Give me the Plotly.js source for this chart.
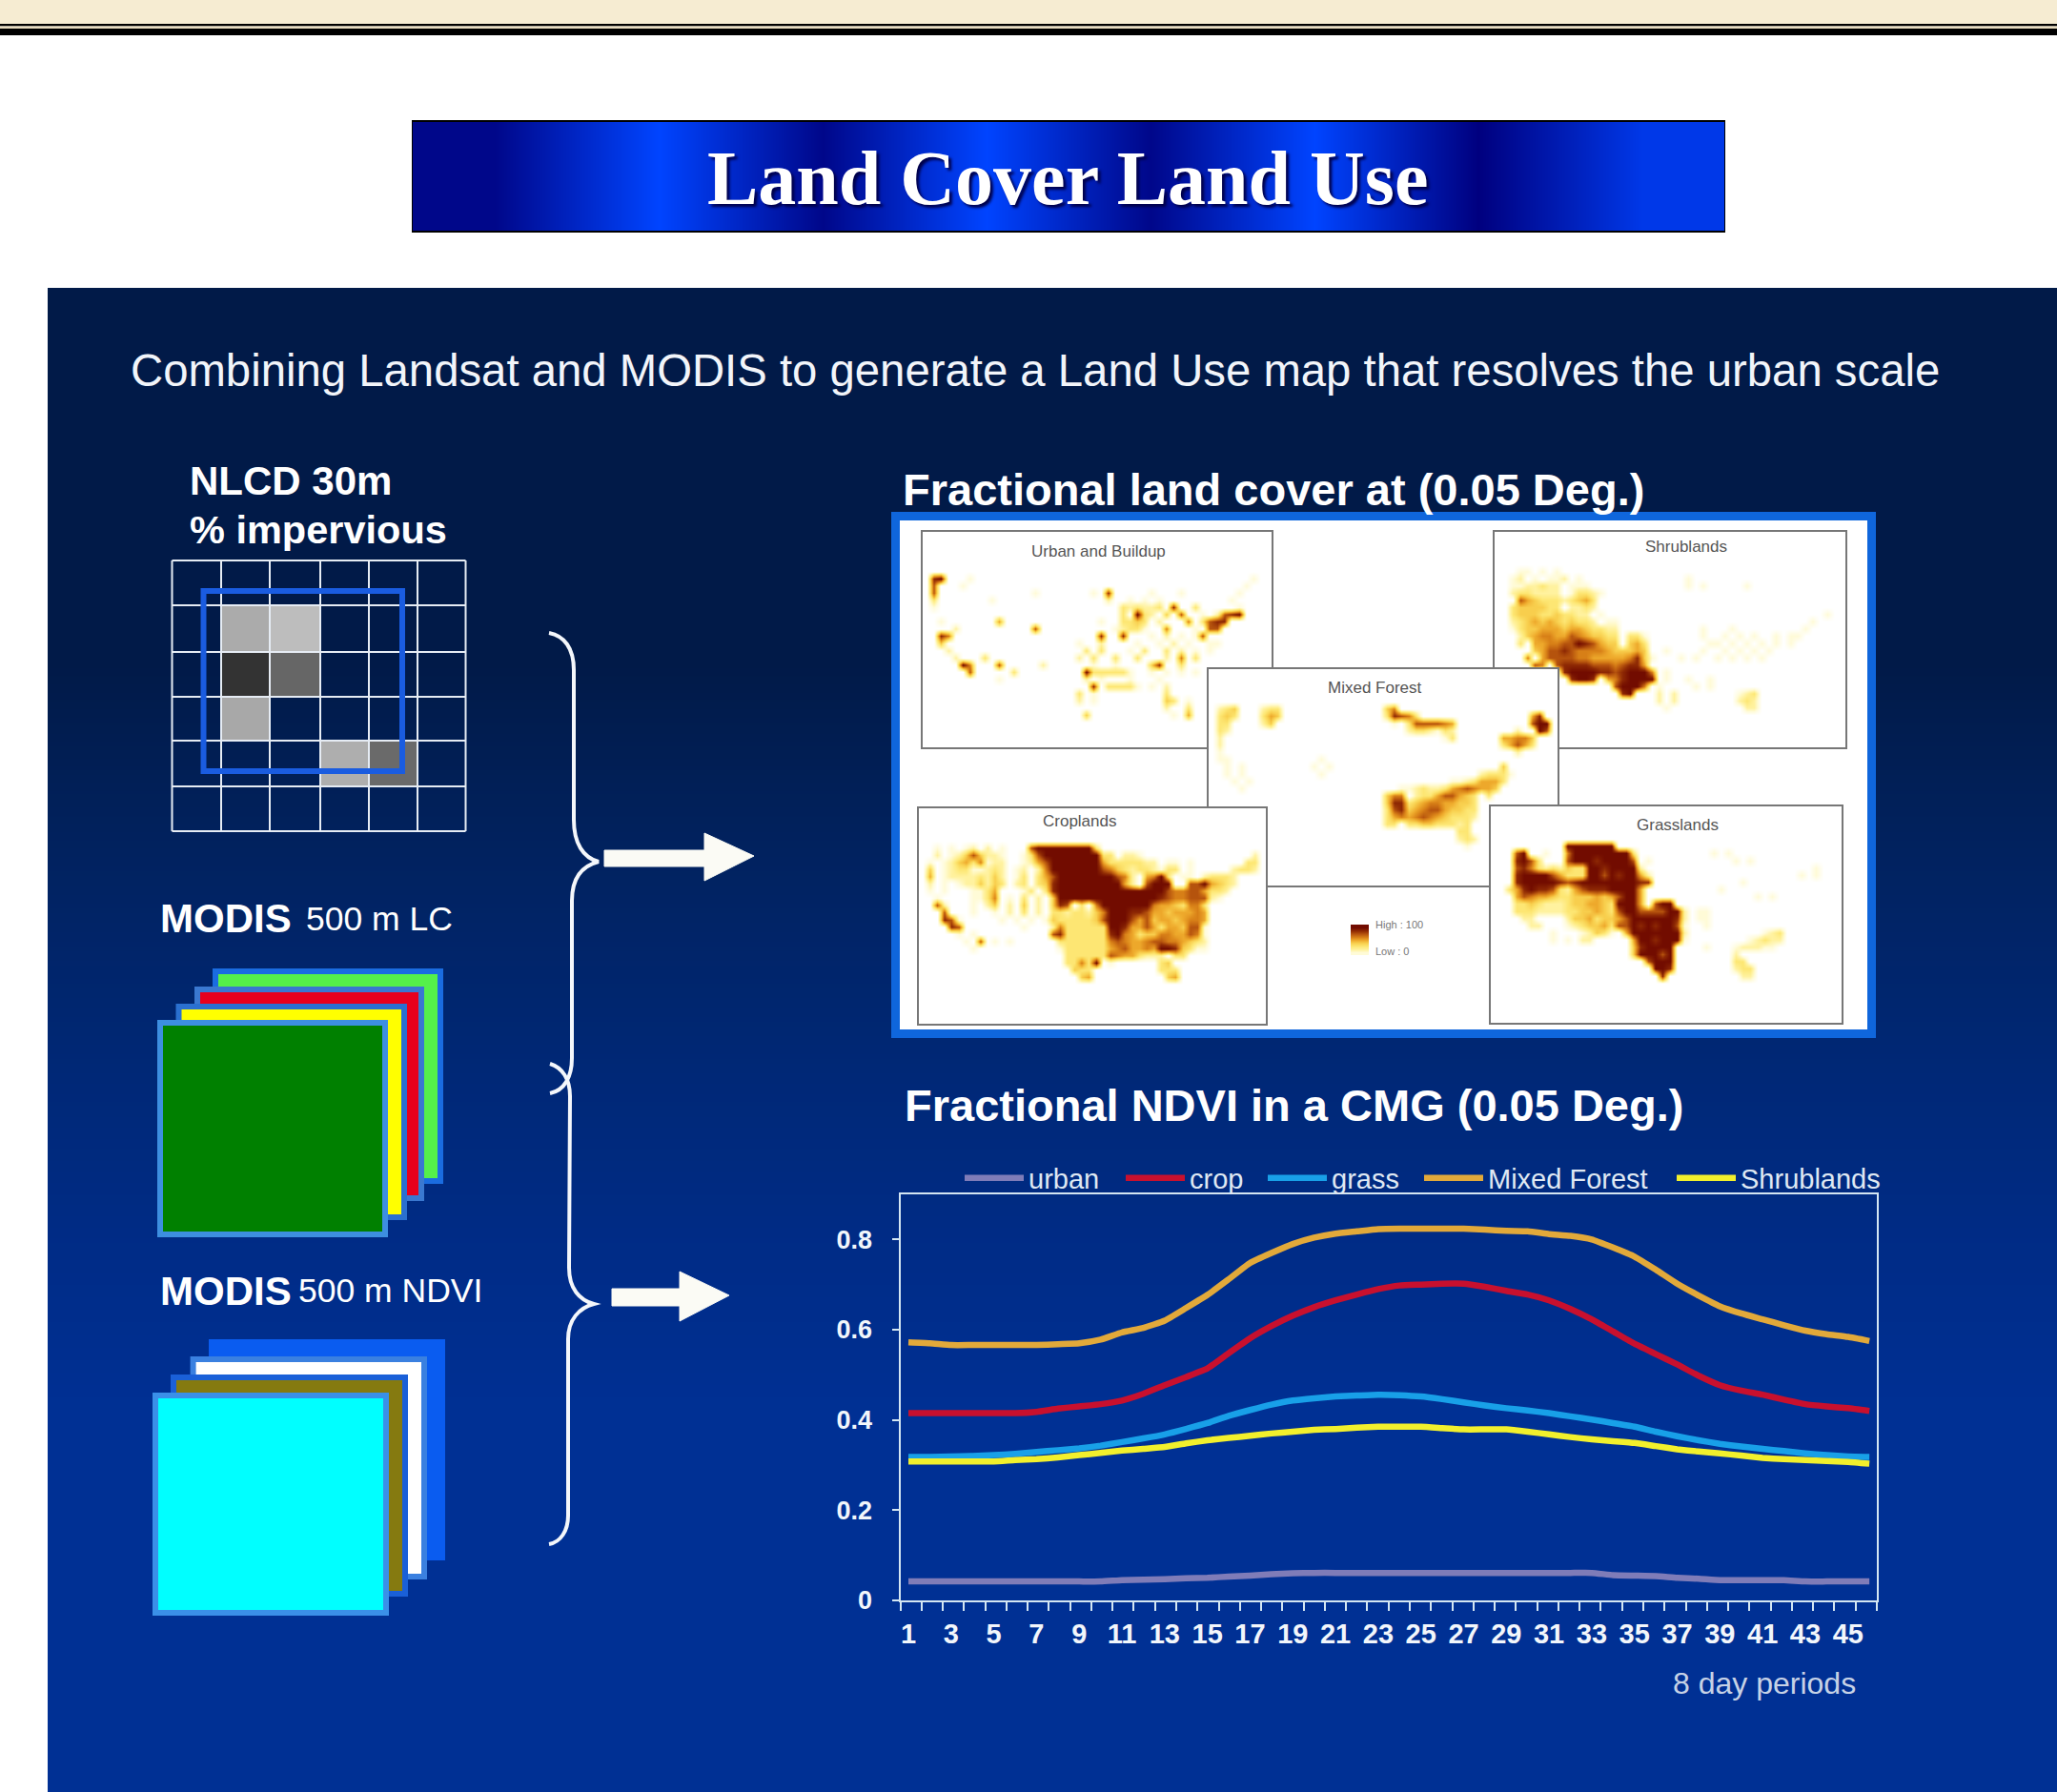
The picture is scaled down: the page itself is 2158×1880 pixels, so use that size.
<!DOCTYPE html>
<html><head><meta charset="utf-8">
<script src="https://cdn.plot.ly/plotly-3.0.1.min.js"></script>
<style>html,body{margin:0;padding:0;background:#fff}</style></head>
<body><div id="chart" style="width:2158px;height:1880px"></div>
<script>
const W = 2158, H = 1880;
// ---- NDVI chart data ----
const periods = [1,2,3,4,5,6,7,8,9,10,11,12,13,14,15,16,17,18,19,20,21,22,23,24,25,26,27,28,29,30,31,32,33,34,35,36,37,38,39,40,41,42,43,44,45,46];
const urban = [.042,.042,.042,.042,.042,.042,.042,.042,.042,.042,.045,.046,.047,.049,.050,.053,.055,.058,.060,.061,.061,.061,.061,.061,.061,.061,.061,.061,.061,.061,.061,.061,.061,.056,.055,.054,.050,.048,.045,.045,.045,.045,.042,.042,.042,.042];
const crop = [.415,.415,.415,.415,.415,.415,.418,.425,.430,.435,.443,.458,.477,.495,.514,.548,.581,.608,.631,.650,.665,.678,.690,.698,.700,.702,.702,.695,.686,.678,.665,.646,.623,.596,.569,.546,.523,.498,.477,.465,.456,.445,.435,.430,.426,.420];
const grass = [.318,.318,.319,.320,.322,.325,.329,.333,.337,.343,.351,.359,.368,.380,.393,.409,.422,.434,.443,.448,.452,.454,.456,.455,.452,.446,.439,.432,.426,.421,.415,.408,.401,.393,.385,.374,.364,.355,.347,.341,.336,.331,.326,.322,.319,.318];
const mixedForest = [.572,.570,.566,.566,.566,.566,.566,.568,.570,.578,.594,.604,.620,.648,.677,.712,.748,.770,.790,.804,.813,.818,.823,.824,.824,.824,.824,.822,.819,.818,.812,.808,.800,.782,.762,.733,.702,.676,.652,.636,.623,.610,.598,.590,.584,.575];
const shrublands = [.308,.308,.308,.308,.308,.311,.313,.317,.322,.327,.332,.336,.340,.348,.355,.360,.365,.370,.374,.378,.380,.383,.385,.385,.385,.382,.379,.379,.379,.374,.368,.362,.357,.353,.349,.342,.335,.330,.326,.321,.316,.313,.311,.309,.307,.303];
const seriesNames = ['urban','crop','grass','Mixed Forest','Shrublands'];
const seriesColors = ['#7f7cb8','#c8102e','#18a0e8','#e2a93a','#f2f02c'];
const yTickVals = [0,0.2,0.4,0.6,0.8];
const yTickText = ['0','0.2','0.4','0.6','0.8'];
const xTickVals = [1,3,5,7,9,11,13,15,17,19,21,23,25,27,29,31,33,35,37,39,41,43,45];

// ---- Fractional land cover maps, 0-9 per cell, read by eye; first listed row is grid row 5 ----
const mapUrban = [
".......... .......... .......... .......... ........",
".89...1... .......... .......... .......... .....1..",
".7...1.... .......... .......... .......... ....1...",
".7........ .....1.... ...1.8.... .1...1.... ...1....",
".3.......1 .......... .....2..1. 1.1....... ..1.....",
".1........ .......... .......323 223.8..3.. ...1....",
".......... .......... .......3.9 32.4.7..1. 2789....",
"..1....... 5......... ....1..334 3.2...6.37 88......",
"....2..... .....7.... ......1233 1..6...1.7 7.......",
"..86...... .......... ....8..8.. .1.2.1.17. ........",
"..4....... .......... .1..2....1 ..1.2.1..1 1.......",
"...2...... .......... ..3.3...1. 3..3.2.1.1 ........",
"....2...3. .......... .2.3..3..3 ...2.6.3.. ........",
".....96... 7.....2... ...1..1... .48..3.... ........",
"......7... ..3....... ..9333331. .1.1.1.1.. ........",
".......... 1......... ..2.1...1. ..1....... ........",
".......... .......... ...8.33331 .1.2...... ........",
".......... .......... .3.1...... ...3...... ........",
".......... .......... .2.1...... ...43.1... ........",
".......... .......... .......... ...2..3... ........",
".......... .......... ..4....... ....1.5... ........"];
const mapShrub = [
"...11.1.1. .......... .......... .......... ........",
"..12.1.112 .1........ ......1... .......... ........",
"..1122322. 111....... ......1.1. ....1..... ........",
"..2332222. 13321..... .......... .......... ........",
"...7543332 3453...... .......... .......... ........",
"..3444433. 2232...... .......... .......... ........",
"..34443343 322.1..... .......... .......... .....1..",
"..23454543 4332.11... .......... .......... ...1....",
"..13445554 5543322... ........1. ..1....... ..1.....",
"...2456655 7654433.33 1.......1. .1.1.1..1. 11......",
"...3.55667 7987544.45 3........1 1.1.1.1.1. 1.......",
".....45778 7666654445 4..1....1. .1.1.1.1.. ........",
"....6.5777 7665555568 41...1.1.. 1.1.1.1... ........",
".....76.78 8887776788 5......... .......... ........",
".........8 9999887899 96.1...... .......... ........",
".......... 8998.56899 99.1..1..1 .......... ........",
".......... ......7999 6.1....1.1 .......... ........",
".......... .......89. ..2.2..... ...123.... ........",
".......... .......... ..2.2..... ...232.... ........",
".......... .......... ...1...... ....22.... ........"];
const mapMixed = [
".234...233 .......... ....46.... .......... ........",
".343...354 .......... ....38763. .......... ....58..",
".33....24. .......... .....1.377 7765...... ....799.",
".32....... .......... .......233 2132...... ..2..97.",
".2........ .......... .......... ..13...... 55664...",
".2........ .......... .......... .......... 35753...",
".1........ .......... .......... .......... ..2.....",
".11....... .....1.... .......... .......... ........",
"..1.1..... ....1.1... .......... .......... 4.......",
"..1.1..... .....1.... .......... .......233 31......",
"...1.1.... .......... .......... ...1123555 3.......",
"....1..... .......... ......1123 2235676554 ........",
".......... .......... ....466.23 3577543.3. ........",
".......... .......... ....488345 6655443... ........",
".......... .......... ....378456 7754433... ........",
".......... .......... ....356567 6543332... ........",
".......... .......... ....33.334 433323.... ........",
".......... .......... .......... ....33.... ........",
".......... .......... .......... ....232... ........",
".......... .......... .......... .....1.... ........"];
const mapCrop = [
"..1.1.12.2 .1...79999 99993..... .......... ........",
"..2.124742 21..137999 9999933.22 1......... ......2.",
".1.1245361 22..125799 9999953333 322.11.1.. .....33.",
".4.1233112 32.12.2699 9999976432 332133.1.. ...2332.",
".5.1222232 42.13.3579 9999999762 .5693.11.2 3332....",
".2.1.12242 43.23.3489 9999999952 .7999..779 5432....",
".1.1...113 5...13.389 9999999999 9999766775 332.....",
"..1....113 6.1.3.2.49 9999999999 9998766777 21......",
"..72...1.2 4.2.4.2.48 7.3.699999 9965543663 ........",
"...7...1.. 1.2.3.2.33 2332469998 8755455565 ........",
"...871.... .1.1.1.143 3333479997 5745545665 ........",
"....87.... ....1...26 3333339985 5753554771 ........",
".....1.1.. ........78 3333338965 3446655761 ........",
"......1.7. 1.1......3 3333336765 5677665432 ........",
".......1.. .........1 3333335675 5659984311 ........",
".......... .......... 3333337655 3222.33... ........",
".......... .......... 33639.1... ...34..... ........",
".......... .......... .433...... ...333.... ........",
".......... .......... ..45...... ....45.... ........"];
const mapGrass = [
".......... 9999999... .......... .......... ........",
"...79..1.. 6999999993 .......... 1.1....... ........",
"...8973... 7999899997 .1........ ...1.1.... ........",
"...7863232 4339989999 2......... .......... ....1...",
"...8999975 3339979899 52........ .......... ..1.1...",
"...8999998 7899999999 88........ ....1..... ........",
"..35898873 2578889999 5......... .1........ ........",
"...5765543 3444545799 5......... ......1.1. ........",
"...3343222 3445543999 5.799..... .......... ........",
"...3332222 3344543799 7777992.11 .......... ........",
"....22.... 2445344579 9999982.11 .......... ........",
".....22... 1234453779 8989971..1 .......... ........",
"........1. ..12431.59 9999992... .......123 ........",
"........1. 1.22.....5 9989991... .....12322 ........",
".......... .........4 89999....1 ...122211. ........",
".......... .........4 99979..... ...2...... ........",
".......... .......... .7999..... ...33..... ........",
".......... .......... ..998..... ...233.... ........",
".......... .......... ...8...... ....22.... ........"];
const mapScale = [[0,'#ffffff'],[0.11,'#fffbd8'],[0.22,'#fff2a0'],[0.33,'#fde774'],[0.44,'#f8cf4e'],[0.55,'#eeaa2c'],[0.66,'#d98218'],[0.77,'#b8560e'],[0.88,'#8f2a04'],[1,'#720c00']];
const swatchLevels = [[9],[7],[5],[3],[1]];

// ---- page gradient stops ----
const backdropStops = [[0,'#011a48'],[0.25,'#01225f'],[0.55,'#002877'],[0.8,'#002c88'],[1,'#003094']];
const bannerStops = [[0,'#00078a'],[0.137,'#0044ff'],[0.285,'#00078a'],[0.437,'#0044ff'],[0.575,'#00078a'],[0.73,'#0044ff'],[0.875,'#00007f'],[1,'#0038e8']];

const px = v => v / W, py = v => 1 - v / H;
const SANS = 'Liberation Sans, Arial, sans-serif';
const NARROW = 'Liberation Sans Narrow, Liberation Sans, sans-serif';
const traces = [], layout = {
  width: W, height: H, margin: {l:0,r:0,t:0,b:0}, paper_bgcolor: '#ffffff', plot_bgcolor: 'rgba(0,0,0,0)',
  hovermode: false, shapes: [], annotations: []
};
function ax(id, x0, x1, y0, y1, rx, ry, line) {
  const suffix = id === 1 ? '' : String(id);
  const base = {showgrid:false, zeroline:false, showticklabels:false, ticks:'', fixedrange:true,
    showline: !!line, mirror: !!line, linecolor: line ? line.c : undefined, linewidth: line ? line.w : undefined};
  layout['xaxis'+suffix] = Object.assign({}, base, {domain:[px(x0),px(x1)], range:rx, anchor:'y'+suffix});
  layout['yaxis'+suffix] = Object.assign({}, base, {domain:[py(y1),py(y0)], range:ry, anchor:'x'+suffix});
  return {xaxis:'x'+suffix, yaxis:'y'+suffix};
}
function heat(id, box, z, scale, line, zmin, zmax) {
  const rows = z.length, cols = z[0].length;
  traces.push(Object.assign({type:'heatmap', z, colorscale:scale, zmin, zmax, zsmooth:'best', showscale:false, hoverinfo:'skip', showlegend:false},
    ax(id, box[0], box[1], box[2], box[3], [-0.5,cols-0.5], [rows-0.5,-0.5], line)));
}
const mapCols = 48, mapRowsTotal = 30, mapFirstRow = 5;
function parseMap(rows){
  const grid = [];
  for (let j=0;j<mapRowsTotal;j++){
    const r = (rows[j-mapFirstRow]||'').replace(/ /g,''), a=[];
    for(let i=0;i<mapCols;i++){ const c=r[i]; a.push(c&&c!=='.'?+c:0); }
    grid.push(a);
  }
  return grid;
}

// backdrop and banner
heat(1,[50,W,302,H],[[0],[1]],backdropStops,null,0,1);
heat(2,[433,1809,128,242],[bannerStops.map((s,i)=>s[0])],bannerStops,null,0,1);
// white panel
heat(3,[944,1959,546,1080],[[0,0],[0,0]],[[0,'#fff'],[1,'#fff']],{c:'#0f66dc',w:9},0,1);
// maps
const frame = {c:'#777777',w:2};
const mapBoxes = [[968,1334,558,784],[1568,1936,558,784],[1268,1634,702,929],[964,1328,848,1074],[1564,1932,846,1073]];
[mapUrban,mapShrub,mapMixed,mapCrop,mapGrass].forEach((m,i)=>heat(4+i,mapBoxes[i],parseMap(m),mapScale,frame,0,9));
heat(9,[1417,1436,970,1002],swatchLevels,mapScale,null,0,9);

// NDVI chart
const legendIds = ['legend','legend2','legend3','legend4','legend5'];
const legendStart = [1014,1183,1332,1496,1761];
[urban,crop,grass,mixedForest,shrublands].forEach((s,i)=>{
  traces.push({type:'scatter',mode:'lines',x:periods,y:s,name:seriesNames[i],xaxis:'x10',yaxis:'y10',legend:legendIds[i],showlegend:true,
    line:{color:seriesColors[i],width:6.5,shape:'spline',smoothing:0.4},hoverinfo:'skip'});
  layout[legendIds[i]] = {orientation:'h',x:px(legendStart[i]-7),xanchor:'left',y:py(1236),yanchor:'middle',bgcolor:'rgba(0,0,0,0)',itemwidth:62,
    font:{family:NARROW,size:29,color:'#dfe8f3'},itemclick:false,itemdoubleclick:false};
});
const axisLine = '#d4e6f2';
layout.xaxis10 = {domain:[px(944.5),px(1969)],anchor:'y10',range:[0.62,46.35],tickmode:'array',tickvals:xTickVals,ticktext:xTickVals.map(String),
  ticks:'',ticklabelstandoff:8,tickfont:{family:NARROW,size:29,color:'#f2f6fb',weight:700},showgrid:false,zeroline:false,fixedrange:true,tickangle:0,
  showline:true,mirror:true,linecolor:axisLine,linewidth:2,
  minor:{tick0:0.62,dtick:0.9941,ticks:'outside',ticklen:9,tickwidth:2,tickcolor:axisLine,showgrid:false}};
layout.yaxis10 = {domain:[py(1679),py(1253)],anchor:'x10',range:[0,0.9],tickmode:'array',tickvals:yTickVals,ticktext:yTickText,
  ticks:'outside',ticklen:7,tickwidth:2,tickcolor:axisLine,tickfont:{family:SANS,size:27,color:'#f2f6fb',weight:700},ticklabelstandoff:15,
  showgrid:false,zeroline:false,fixedrange:true,showline:true,mirror:true,linecolor:axisLine,linewidth:2};

// decoration shapes
function rect(x0,y0,x1,y1,fill,lc,lw){ layout.shapes.push({type:'rect',xref:'paper',yref:'paper',x0:px(x0),x1:px(x1),y0:py(y1),y1:py(y0),fillcolor:fill,line:{color:lc||fill,width:lw||0},layer:'above'}); }
function pathShape(pts,stroke,width,fill){
  const d = pts.replace(/(-?[\d.]+),(-?[\d.]+)/g,(m,a,b)=>px(+a)+','+py(+b));
  layout.shapes.push({type:'path',path:d,xref:'paper',yref:'paper',fillcolor:fill||'rgba(0,0,0,0)',line:{color:stroke,width:width},layer:'above'});
}
rect(0,0,W,25,'#f6ecd2'); rect(0,25,W,27.5,'#000'); rect(0,27.5,W,30,'#e8dcc0'); rect(0,30,W,37,'#000');
rect(432,126,1810,128,'#000'); rect(432,242,1810,244,'#000'); rect(432,128,433,242,'#000'); rect(1809,128,1810,242,'#000');
const cellX=[180.5,232,283,336,387,438,488.5], cellY=[588,635,684,731,777,825,872];
[[1,1,'#ababab'],[2,1,'#bdbdbd'],[1,2,'#333333'],[2,2,'#666666'],[1,3,'#a8a8a8'],[3,4,'#aeaeae'],[4,4,'#6a6a6a']].forEach(c=>rect(cellX[c[0]],cellY[c[1]],cellX[c[0]+1],cellY[c[1]+1],c[2]));
cellX.forEach(x=>layout.shapes.push({type:'line',xref:'paper',yref:'paper',x0:px(x),x1:px(x),y0:py(588),y1:py(872),line:{color:'#e6ecf4',width:2},layer:'above'}));
cellY.forEach(y=>layout.shapes.push({type:'line',xref:'paper',yref:'paper',x0:px(180.5),x1:px(488.5),y0:py(y),y1:py(y),line:{color:'#e6ecf4',width:2},layer:'above'}));
rect(213.5,620,422,809,'rgba(0,0,0,0)','#1a5ce0',6);
rect(226,1019,462,1239,'#55f04a','#1a6ce0',6);
rect(207,1038,442,1257,'#e8001c','#3a78d0',6);
rect(187.5,1056,424,1277,'#ffff00','#2a70d0',6);
rect(168,1073,404,1295,'#008000','#3d8fe0',6);
rect(219,1405,467,1637,'#0a5cf0');
rect(202.6,1426,445,1654,'#ffffff','#3a80e0',6);
rect(182,1445,425,1672,'#857a10','#1a60d8',6);
rect(163,1464,405,1692,'#00ffff','#3a90e8',6);
pathShape('M576,664 C592,667 602,680 602,703 L602,860 C602,885 612,900 628,904 C612,908 600,920 600,945 L600,1110 C600,1130 592,1144 577,1147','#f4f7fb',4);
pathShape('M577,1116 C590,1120 598,1132 598,1150 L597,1330 C597,1352 608,1364 623,1368 C608,1372 596,1384 596,1405 L596,1590 C596,1606 588,1618 576,1620','#f4f7fb',4);
pathShape('M634,892 L739,892 L739,874 L791,898 L739,924 L739,909 L634,909 Z','#fbfbf5',1,'#fbfbf5');
pathShape('M642,1352 L713,1352 L713,1334 L765,1359 L713,1386 L713,1370 L642,1370 Z','#fbfbf5',1,'#fbfbf5');

function text(t,x,y,size,o){ o=o||{};
  layout.annotations.push({text:t,xref:'paper',yref:'paper',x:px(x),y:py(y),xanchor:o.anchor||'left',yanchor:'middle',showarrow:false,
    font:Object.assign({family:o.family||SANS,size,color:o.color||'#ffffff'},o.bold?{weight:700}:{},o.shadow?{shadow:o.shadow}:{})});
}
text('Land Cover Land Use',1120,187,80,{anchor:'center',family:'Liberation Serif, serif',bold:true,shadow:'3px 3px 3px #00004a'});
text('Combining Landsat and MODIS to generate a Land Use map that resolves the urban scale',135,388,47.3,{color:'#f2f5fa'});
text('NLCD 30m',197,504,42,{bold:true});
text('% impervious',197,555,41.5,{bold:true});
text('MODIS',166,963,42,{bold:true});
text('500 m LC',319,964,35.5);
text('MODIS',166,1354,42,{bold:true});
text('500 m NDVI',311,1354,35.5);
text('Fractional land cover at (0.05 Deg.)',945,513,47,{bold:true});
text('Fractional NDVI in a CMG (0.05 Deg.)',947,1159,47,{bold:true});
text('8 day periods',1949,1766,32,{anchor:'right',family:NARROW,color:'#c6d2e6'});
text('Urban and Buildup',1152,578,17,{anchor:'center',color:'#555555'});
text('Shrublands',1769,574,17,{anchor:'center',color:'#555555'});
text('Mixed Forest',1442,721,17,{anchor:'center',color:'#555555'});
text('Croplands',1133,862,17,{anchor:'center',color:'#555555'});
text('Grasslands',1760,865,17,{anchor:'center',color:'#555555'});
text('High : 100',1441,970,11,{color:'#777777'});
text('Low : 0',1441,998,11,{color:'#777777'});

Plotly.newPlot('chart',traces,layout,{staticPlot:true,displayModeBar:false});
</script></body></html>
